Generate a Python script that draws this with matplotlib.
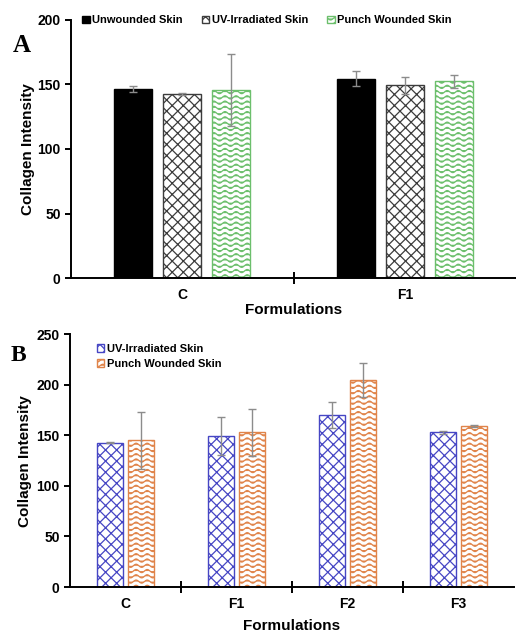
import warnings
import numpy as np
import matplotlib
matplotlib.use("Agg")
import matplotlib.pyplot as plt
import matplotlib.hatch as mhatch
from matplotlib.path import Path

warnings.filterwarnings("ignore")

# --- datos ---
cats_a = ["C", "F1"]
series_a = ["Unwounded Skin", "UV-Irradiated Skin", "Punch Wounded Skin"]
vals_a = [[146.5, 154.5],
          [142.5, 149.5],
          [145.5, 152.5]]
errs_a = [[2.5, 6.0],
          [1.0, 6.5],
          [28.0, 5.0]]

cats_b = ["C", "F1", "F2", "F3"]
series_b = ["UV-Irradiated Skin", "Punch Wounded Skin"]
vals_b = [[142.8, 149.5, 170.2, 153.0],
          [145.0, 153.0, 204.5, 159.3]]
errs_b = [[0.5, 18.5, 12.5, 1.5],
          [28.0, 23.5, 17.0, 1.0]]


# --- trama ondulada (non existe en matplotlib) ---
class WaveHatch(mhatch.HatchPatternBase):
    def __init__(self, hatch, density):
        self.num_rows = int(hatch.count("~") * density * 1.6)
        self.periods = max(self.num_rows // 2, 1)
        self.npts = self.periods * 10 + 1
        self.num_vertices = self.num_rows * self.npts if self.num_rows else 0

    def set_vertices_and_codes(self, vertices, codes):
        n = self.num_rows
        xs = np.linspace(0.0, 1.0, self.npts)
        amp = 0.3 / n
        for i in range(n):
            y0 = (i + 0.5) / n
            ys = y0 + amp * np.sin(2 * np.pi * self.periods * xs)
            sl = slice(i * self.npts, (i + 1) * self.npts)
            vertices[sl, 0] = xs
            vertices[sl, 1] = ys
            codes[sl] = Path.LINETO
            codes[i * self.npts] = Path.MOVETO


mhatch._hatch_types.append(WaveHatch)
plt.rcParams["hatch.linewidth"] = 0.9
plt.rcParams["font.family"] = ["Liberation Sans", "DejaVu Sans"]
plt.rcParams["font.weight"] = "bold"
plt.rcParams["axes.labelweight"] = "bold"

fig = plt.figure(figsize=(5.16, 6.32), dpi=100)
ax_a = fig.add_axes([0.1376, 0.5601, 0.8624, 0.4083])
ax_b = fig.add_axes([0.1357, 0.0712, 0.8605, 0.3998])

err_kw = dict(ecolor="#8c8c8c", elinewidth=1.0, capsize=3, capthick=1.0)


def estilo_eixo(ax, ncat, ymax):
    for s in ["top", "right"]:
        ax.spines[s].set_visible(False)
    for s in ["left", "bottom"]:
        ax.spines[s].set_linewidth(1.4)
    ax.set_xlim(-0.5, ncat - 0.5)
    ax.set_ylim(0, ymax)
    ax.set_xticks(np.arange(ncat - 1) + 0.5)
    ax.set_xticklabels([])
    ax.tick_params(axis="x", which="major", direction="inout", length=8, width=1.4)
    ax.set_xticks(np.arange(ncat), minor=True)
    ax.tick_params(axis="x", which="minor", length=0, pad=7, labelsize=10)
    ax.tick_params(axis="y", direction="out", length=4, width=1.4, labelsize=10)


# --- Panel A ---
x_a = np.arange(len(cats_a))
w_a = 0.17
off_a = [-0.22, 0.0, 0.22]
faces_a = ["black", "white", "white"]
edges_a = ["black", "#3c3c3c", "#6cbf6c"]
hatches_a = [None, "xxx", "~~"]
for i, name in enumerate(series_a):
    ax_a.bar(x_a + off_a[i], vals_a[i], w_a, yerr=errs_a[i], color=faces_a[i],
             edgecolor=edges_a[i], hatch=hatches_a[i], linewidth=1.0,
             label=name, error_kw=err_kw, zorder=2)
estilo_eixo(ax_a, len(cats_a), 200)
ax_a.set_yticks([0, 50, 100, 150, 200])
ax_a.set_xticklabels(cats_a, minor=True)
ax_a.set_ylabel("Collagen Intensity", fontsize=11, labelpad=2)
ax_a.set_xlabel("Formulations", fontsize=11, labelpad=1)
ax_a.legend(loc="upper left", bbox_to_anchor=(0.015, 1.035), ncol=3, frameon=False,
            fontsize=8, handlelength=0.7, handleheight=0.7, handletextpad=0.2,
            columnspacing=1.7, borderaxespad=0)

# --- Panel B ---
x_b = np.arange(len(cats_b))
w_b = 0.23
off_b = [-0.14, 0.14]
edges_b = ["#4646c4", "#e0844a"]
hatches_b = ["xxx", "~~"]
for i, name in enumerate(series_b):
    ax_b.bar(x_b + off_b[i], vals_b[i], w_b, yerr=errs_b[i], color="white",
             edgecolor=edges_b[i], hatch=hatches_b[i], linewidth=1.0,
             label=name, error_kw=err_kw, zorder=2)
estilo_eixo(ax_b, len(cats_b), 250)
ax_b.set_yticks([0, 50, 100, 150, 200, 250])
ax_b.set_xticklabels(cats_b, minor=True)
ax_b.set_ylabel("Collagen Intensity", fontsize=11, labelpad=3)
ax_b.set_xlabel("Formulations", fontsize=11, labelpad=6)
ax_b.legend(loc="upper left", bbox_to_anchor=(0.05, 0.98), ncol=1, frameon=False,
            fontsize=8, handlelength=0.7, handleheight=0.7, handletextpad=0.2,
            labelspacing=0.45, borderaxespad=0)

# letras dos paneis
fig.text(0.025, 0.928, "A", fontsize=18, fontweight="bold",
         family=["Liberation Serif", "DejaVu Serif"], va="center")
fig.text(0.02, 0.437, "B", fontsize=17, fontweight="bold",
         family=["Liberation Serif", "DejaVu Serif"], va="center")

fig.savefig("out.png", dpi=100)
